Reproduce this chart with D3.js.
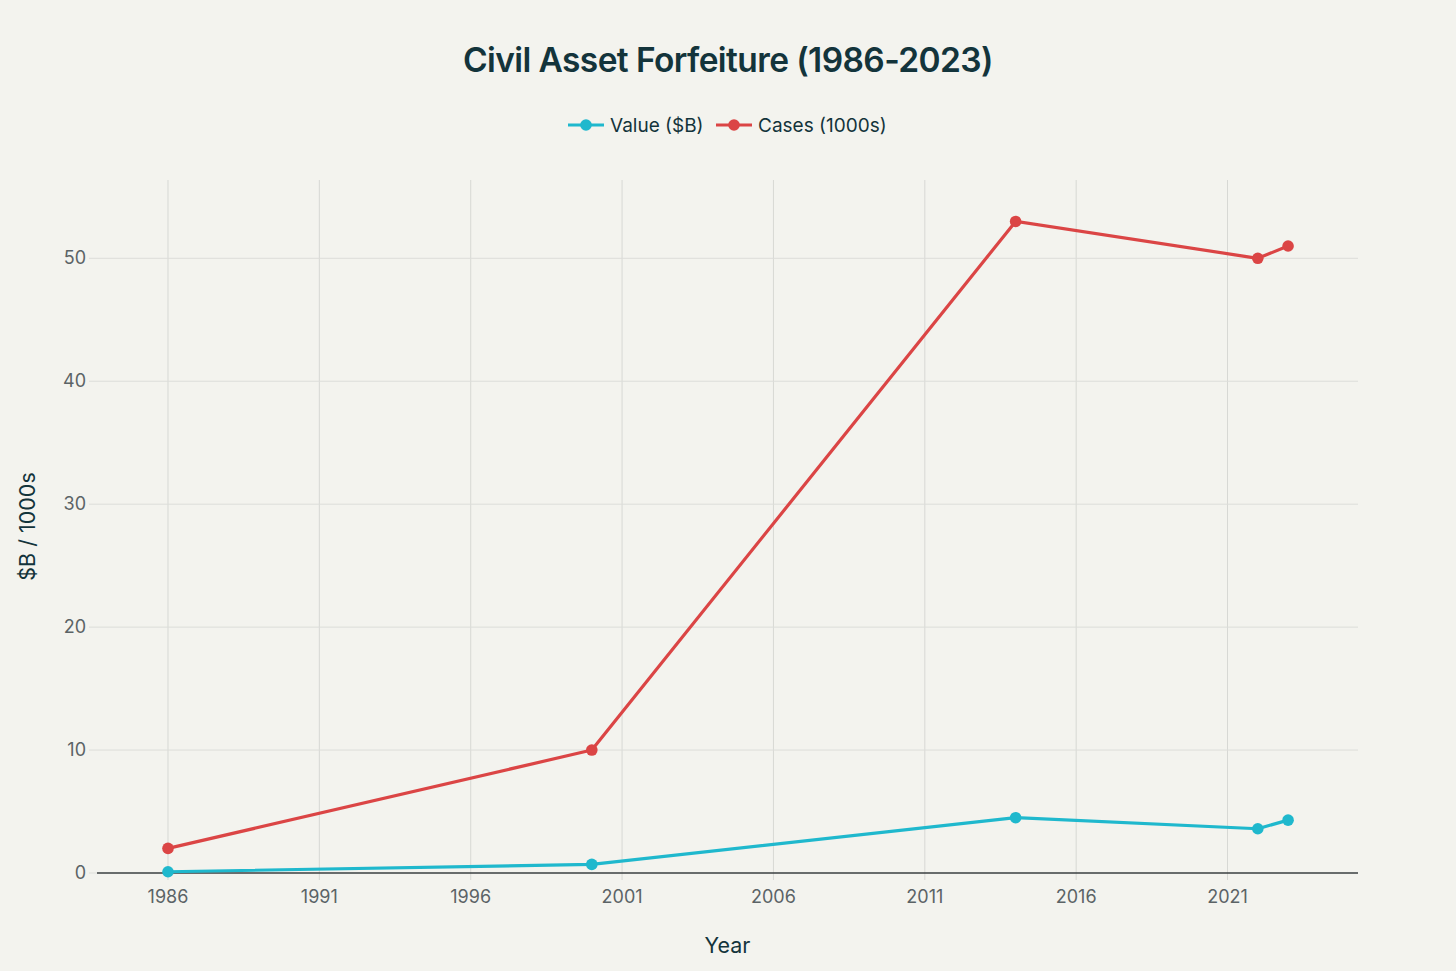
<!DOCTYPE html>
<html>
<head>
<meta charset="utf-8">
<script src="https://cdn.jsdelivr.net/npm/d3@7"></script>
<style>
  html, body { margin: 0; padding: 0; background: #F3F3EE; }
  svg { display: block; font-family: Inter, "Liberation Sans", sans-serif; }
</style>
</head>
<body>
<svg id="chart" width="1456" height="971"></svg>
<script>
const years = [1986, 2000, 2014, 2022, 2023];
const valueB = [0.1, 0.7, 4.5, 3.6, 4.3];
const cases1000s = [2, 10, 53, 50, 51];
const xTicks = [1986, 1991, 1996, 2001, 2006, 2011, 2016, 2021];
const yTicks = [0, 10, 20, 30, 40, 50];
const seriesNames = ["Value ($B)", "Cases (1000s)"];
const seriesColors = ["#1FB8CD", "#DB4545"];

const W = 1456, H = 971;
const m = { left: 97, right: 1358, top: 180, bottom: 873 };
const svg = d3.select("#chart");
svg.append("rect").attr("width", W).attr("height", H).attr("fill", "#F3F3EE");

const x = d3.scaleLinear().domain([1983.655, 2025.31]).range([m.left, m.right]);
const y = d3.scaleLinear().domain([0, 56.37]).range([m.bottom, m.top]);

// grid
const g = svg.append("g");
g.selectAll(".vg").data(xTicks).join("line")
  .attr("x1", d => x(d)).attr("x2", d => x(d))
  .attr("y1", m.top).attr("y2", m.bottom + 7)
  .attr("stroke", "#D7D8D4").attr("stroke-width", 1);
g.selectAll(".hg").data(yTicks.filter(d => d !== 0)).join("line")
  .attr("x1", m.left - 8).attr("x2", m.right)
  .attr("y1", d => y(d)).attr("y2", d => y(d))
  .attr("stroke", "#DCDDD9").attr("stroke-width", 1);
// zero line
g.append("line").attr("x1", m.left).attr("x2", m.right)
  .attr("y1", y(0)).attr("y2", y(0)).attr("stroke", "#3A3F40").attr("stroke-width", 1.3);
g.append("line").attr("x1", m.left - 8).attr("x2", m.left)
  .attr("y1", y(0)).attr("y2", y(0)).attr("stroke", "#DCDDD9").attr("stroke-width", 1);

// tick labels
svg.append("g").selectAll("text").data(xTicks).join("text")
  .attr("x", d => x(d)).attr("y", 903)
  .attr("text-anchor", "middle").attr("fill", "#5B6366").attr("font-size", 18)
  .text(d => d);
svg.append("g").selectAll("text").data(yTicks).join("text")
  .attr("x", 86).attr("y", d => y(d) + 6)
  .attr("text-anchor", "end").attr("fill", "#5B6366").attr("font-size", 18)
  .text(d => d);

// axis titles
svg.append("text").attr("x", (m.left + m.right) / 2).attr("y", 953)
  .attr("text-anchor", "middle").attr("fill", "#13343B").attr("font-size", 21.5).text("Year");
svg.append("text").attr("transform", `translate(35,${(m.top + m.bottom) / 2}) rotate(-90)`)
  .attr("text-anchor", "middle").attr("fill", "#13343B").attr("font-size", 21.5).text("$B / 1000s");

// title
svg.append("text").attr("x", 728).attr("y", 72).attr("text-anchor", "middle")
  .attr("fill", "#13343B").attr("font-size", 33.5).attr("font-weight", 600)
  .attr("letter-spacing", -0.6)
  .text("Civil Asset Forfeiture (1986-2023)");

// lines
const series = [valueB, cases1000s];
const line = d3.line().x(d => x(d[0])).y(d => y(d[1]));
series.forEach((vals, i) => {
  const pts = years.map((yr, j) => [yr, vals[j]]);
  svg.append("path").datum(pts).attr("d", line)
    .attr("fill", "none").attr("stroke", seriesColors[i]).attr("stroke-width", 3.2)
    .attr("stroke-linejoin", "round");
  svg.append("g").selectAll("circle").data(pts).join("circle")
    .attr("cx", d => x(d[0])).attr("cy", d => y(d[1])).attr("r", 5.8)
    .attr("fill", seriesColors[i]);
});

// legend
const leg = svg.append("g");
const legItems = [{ x: 568 }, { x: 716 }];
seriesNames.forEach((name, i) => {
  const lx = legItems[i].x;
  leg.append("line").attr("x1", lx).attr("x2", lx + 36).attr("y1", 125).attr("y2", 125)
    .attr("stroke", seriesColors[i]).attr("stroke-width", 3.2);
  leg.append("circle").attr("cx", lx + 18).attr("cy", 125).attr("r", 5.8).attr("fill", seriesColors[i]);
  leg.append("text").attr("x", lx + 42).attr("y", 131.5).attr("fill", "#13343B")
    .attr("font-size", 19).text(name);
});
</script>
</body>
</html>
